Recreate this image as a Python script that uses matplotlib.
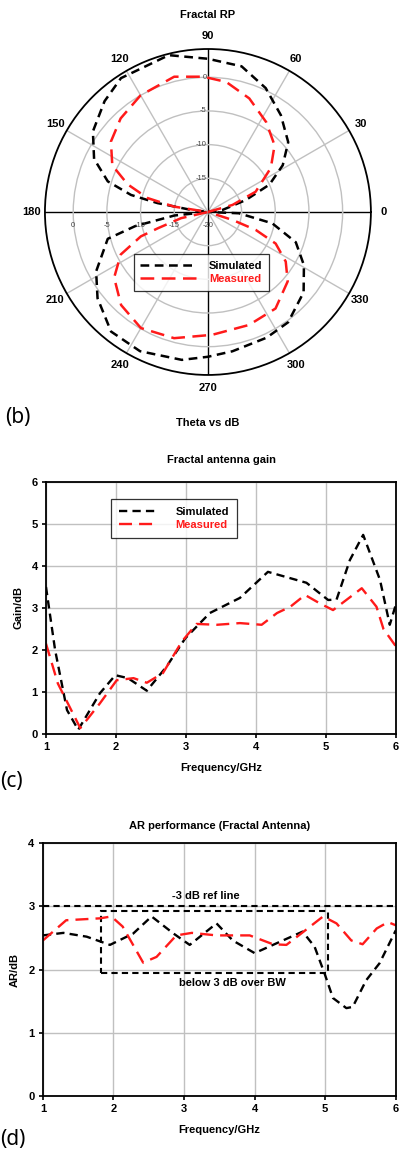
import numpy as np
import matplotlib
matplotlib.use('Agg')
import matplotlib.pyplot as plt
from matplotlib.patches import Rectangle

plt.rcParams['font.family'] = ['Liberation Sans', 'DejaVu Sans']

# radiation pattern (deg, dB)
rp_theta_sim = [0, 8, 17.5, 24, 32, 41, 53, 65, 77, 90, 104, 123, 133, 145, 155, 163,
                167.5, 170, 173, 180, 186, 191, 195, 208, 218, 231, 244, 260, 270,
                280, 295, 306, 320, 331, 341, 350, 357.6, 360]
rp_sim = [-20, -17.8, -14.1, -10, -6.9, -4.2, -2.0, 0.3, 2.2, 2.75, 4.0, 3.7, 2.5, 0.85,
          -1.35, -4.45, -8.3, -12.4, -17.5, -20, -15, -9, -4.6, -1.2, 0.8, 2.85, 3.0,
          2.3, 1.5, 1.0, 0.6, 0.25, -1.45, -3.7, -6.2, -10.3, -15.4, -20]
rp_theta_meas = [0, 16, 23, 35, 45, 57, 70, 82, 92, 104, 120, 133, 144, 154, 161, 167,
                 171, 180, 193, 198, 200, 206, 215, 227, 240, 255, 272, 290, 305, 319,
                 327.5, 335, 339.4, 342, 360]
rp_meas = [-20, -16.2, -12.3, -8.6, -6.0, -4.1, -2.05, -0.5, 0.1, 0.7, 0.0, -1.0, -2.2,
           -4.2, -7.4, -10.8, -14.9, -20, -15.9, -12.2, -9.4, -5.6, -3.0, -1.1, -0.1,
           -0.6, -1.75, -2.15, -2.5, -4.3, -6.3, -8.9, -12.4, -16.1, -20]

# gain vs frequency
gain_f_sim = [1.0, 1.13, 1.3, 1.46, 1.77, 1.99, 2.17, 2.44, 2.72, 2.99, 3.34, 3.77,
              4.17, 4.72, 5.03, 5.15, 5.34, 5.53, 5.77, 5.91, 6.0]
gain_sim = [3.5, 2.0, 0.57, 0.1, 0.97, 1.4, 1.33, 1.03, 1.6, 2.28, 2.88, 3.24,
            3.86, 3.6, 3.19, 3.2, 4.14, 4.74, 3.67, 2.6, 3.1]
gain_f_meas = [1.0, 1.17, 1.49, 1.77, 2.01, 2.25, 2.44, 2.67, 2.94, 3.15, 3.44, 3.77,
               4.08, 4.3, 4.49, 4.7, 4.91, 5.1, 5.51, 5.72, 5.82, 6.0]
gain_meas = [2.15, 1.2, 0.14, 0.73, 1.28, 1.33, 1.22, 1.45, 2.2, 2.62, 2.6, 2.64,
             2.6, 2.88, 3.03, 3.31, 3.11, 2.95, 3.47, 3.03, 2.5, 2.08]

# axial ratio vs frequency
ar_f_sim = [1.0, 1.29, 1.62, 1.95, 2.28, 2.54, 2.85, 3.08, 3.46, 3.69, 4.0, 4.4,
            4.68, 4.85, 4.99, 5.11, 5.3, 5.39, 5.58, 5.77, 6.0]
ar_sim = [2.54, 2.58, 2.52, 2.39, 2.57, 2.84, 2.57, 2.39, 2.73, 2.46, 2.26, 2.46,
          2.6, 2.36, 1.94, 1.55, 1.39, 1.41, 1.83, 2.1, 2.62]
ar_f_meas = [1.0, 1.33, 1.81, 1.97, 2.13, 2.42, 2.61, 2.89, 3.11, 3.46, 3.93, 4.26,
             4.45, 4.66, 4.97, 5.16, 5.37, 5.53, 5.73, 5.89, 6.0]
ar_meas = [2.46, 2.78, 2.81, 2.84, 2.68, 2.11, 2.2, 2.54, 2.58, 2.54, 2.54, 2.4,
           2.39, 2.57, 2.84, 2.73, 2.46, 2.4, 2.65, 2.75, 2.7]

sim_dash = (0, (3.5, 2.2))
meas_dash = (0, (5.5, 3.0))
red = '#ff1a1a'
grid_c = '#c0c0c0'

fig = plt.figure(figsize=(4.01, 11.53), dpi=100)

# ---- (b) polar radiation pattern
ax = fig.add_axes([0.112, 0.6748, 0.813, 0.2827], projection='polar')
ax.plot(np.deg2rad(rp_theta_sim), rp_sim, color='k', ls=sim_dash, lw=1.8, label='Simulated')
ax.plot(np.deg2rad(rp_theta_meas), rp_meas, color=red, ls=meas_dash, lw=1.8, label='Measured')
ax.set_rlim(-20, 4.2)
ax.set_rticks([-15, -10, -5, 0])
ax.set_yticklabels([])
ax.set_thetagrids(range(0, 360, 30), [str(a) for a in range(0, 360, 30)],
                  fontsize=8, fontweight='bold')
ax.tick_params(axis='x', pad=-1)
ax.grid(True, color=grid_c, lw=1)
for i, gl in enumerate(ax.xaxis.get_gridlines()):
    if i % 3 == 0:
        gl.set_color('k')
ax.spines['polar'].set_color('k')
ax.spines['polar'].set_linewidth(1.3)
for v in [0, -5, -10, -15]:
    ax.annotate(str(v), xy=(np.pi / 2, v), xytext=(-1, 0), textcoords='offset points',
                ha='right', va='center', fontsize=5.5, color='#444444')
for v in [0, -5, -10, -15, -20]:
    ax.annotate(str(v), xy=(np.pi, v), xytext=(0, -10), textcoords='offset points',
                ha='center', va='center', fontsize=5.5, color='#444444')
ax.set_title('Fractal RP', fontsize=8, fontweight='bold', pad=22)
leg = ax.legend(loc='center', bbox_to_anchor=(0.5025, 0.7635), bbox_transform=fig.transFigure,
                fontsize=8, handlelength=5, frameon=True, fancybox=False, borderpad=0.6,
                handletextpad=1.2, labelspacing=0.3)
leg.get_frame().set_edgecolor('k')
leg.get_frame().set_linewidth(0.9)
for t, c in zip(leg.get_texts(), ['k', red]):
    t.set_color(c)
    t.set_fontweight('bold')
fig.text(0.012, 1 - 418 / 1153, '(b)', fontsize=15, family='Noto Sans', va='center')
fig.text(208 / 401, 1 - 423 / 1153, 'Theta vs dB', fontsize=8, fontweight='bold',
         ha='center', va='center')

# ---- (c) gain
ax2 = fig.add_axes([0.1147, 0.3634, 0.873, 0.2186])
ax2.plot(gain_f_sim, gain_sim, color='k', ls=sim_dash, lw=1.7, label='Simulated')
ax2.plot(gain_f_meas, gain_meas, color=red, ls=meas_dash, lw=1.7, label='Measured')
ax2.set_xlim(1, 6)
ax2.set_ylim(0, 6)
ax2.set_title('Fractal antenna gain', fontsize=8, fontweight='bold', pad=14)
ax2.set_xlabel('Frequency/GHz', fontsize=8, fontweight='bold', labelpad=8)
ax2.set_ylabel('Gain/dB', fontsize=8, fontweight='bold', labelpad=6)
leg2 = ax2.legend(loc='upper left', bbox_to_anchor=(0.17, 0.955), fontsize=8,
                  handlelength=3.6, fancybox=False, borderpad=0.7, handletextpad=1.5,
                  labelspacing=0.3)
leg2.get_frame().set_edgecolor('k')
leg2.get_frame().set_linewidth(0.9)
for t, c in zip(leg2.get_texts(), ['k', red]):
    t.set_color(c)
    t.set_fontweight('bold')
fig.text(0.0, 1 - 781 / 1153, '(c)', fontsize=15, family='Noto Sans', va='center')

# ---- (d) axial ratio
ax3 = fig.add_axes([0.107, 0.0494, 0.880, 0.2194])
ax3.plot(ar_f_sim, ar_sim, color='k', ls=sim_dash, lw=1.7)
ax3.plot(ar_f_meas, ar_meas, color=red, ls=meas_dash, lw=1.7)
ax3.axhline(3, color='k', ls=(0, (3, 2)), lw=1.5)
ax3.add_patch(Rectangle((1.83, 1.94), 5.04 - 1.83, 2.92 - 1.94, fill=False,
                        ec='k', ls=(0, (3, 2)), lw=1.5))
ax3.text(3.31, 3.16, '-3 dB ref line', fontsize=8, fontweight='bold', ha='center', va='center')
ax3.text(3.69, 1.78, 'below 3 dB over BW', fontsize=8, fontweight='bold', ha='center', va='center')
ax3.set_xlim(1, 6)
ax3.set_ylim(0, 4)
ax3.set_yticks([0, 1, 2, 3, 4])
ax3.set_title('AR performance (Fractal Antenna)', fontsize=8, fontweight='bold', pad=10)
ax3.set_xlabel('Frequency/GHz', fontsize=8, fontweight='bold', labelpad=8)
ax3.set_ylabel('AR/dB', fontsize=8, fontweight='bold', labelpad=6)
fig.text(0.0, 1 - 1140 / 1153, '(d)', fontsize=15, family='Noto Sans', va='center')

for a in (ax2, ax3):
    a.grid(True, color=grid_c, lw=1)
    a.set_axisbelow(True)
    for s in a.spines.values():
        s.set_linewidth(1.3)
    a.tick_params(direction='out', length=3, width=1.2, labelsize=8, pad=3)
    for lbl in a.get_xticklabels() + a.get_yticklabels():
        lbl.set_fontweight('bold')

fig.savefig('out.png', dpi=100)
